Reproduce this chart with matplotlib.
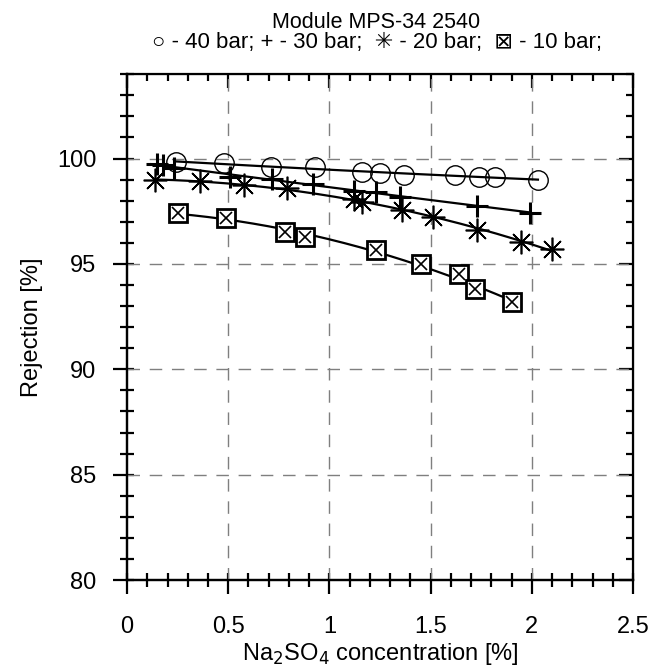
import numpy as np
import matplotlib
matplotlib.use("Agg")
import matplotlib.pyplot as plt

plt.rcParams['font.family'] = ['Liberation Sans', 'DejaVu Sans']

# 40 bar
x40 = [0.24, 0.48, 0.71, 0.93, 1.16, 1.25, 1.37, 1.62, 1.74, 1.82, 2.03]
y40 = [99.82, 99.78, 99.62, 99.59, 99.35, 99.31, 99.23, 99.23, 99.11, 99.11, 99.0]
# 30 bar
x30 = [0.15, 0.18, 0.23, 0.51, 0.715, 0.92, 1.12, 1.23, 1.35, 1.73, 1.99]
y30 = [99.75, 99.7, 99.55, 99.11, 99.03, 98.8, 98.48, 98.4, 98.17, 97.77, 97.43]
# 20 bar
x20 = [0.14, 0.36, 0.58, 0.79, 1.12, 1.16, 1.36, 1.51, 1.73, 1.945, 2.1]
y20 = [98.96, 98.92, 98.76, 98.6, 98.09, 97.93, 97.54, 97.22, 96.62, 96.03, 95.72]
# 10 bar
x10 = [0.25, 0.49, 0.78, 0.88, 1.23, 1.45, 1.64, 1.72, 1.90]
y10 = [97.41, 97.19, 96.51, 96.30, 95.64, 95.01, 94.50, 93.79, 93.19]

title1 = "Module MPS-34 2540"
title2 = "\u25cb - 40 bar; + - 30 bar;  \u2733 - 20 bar;  \u22a0 - 10 bar;"
xlabel = "Na$_2$SO$_4$ concentration [%]"
ylabel = "Rejection [%]"

fig = plt.figure(figsize=(6.65, 6.69), dpi=100)
ax = fig.add_axes([0.191, 0.133, 0.761, 0.756])

def trend(x, y, deg=2, x0=None):
    c = np.polyfit(x, y, deg)
    lo = min(x) if x0 is None else x0
    xs = np.linspace(lo, max(x), 200)
    return xs, np.polyval(c, xs)

lw = 1.6
for xs, ys in [trend(x40, y40), trend(x30, y30, x0=0.12), trend(x20, y20), trend(x10, y10)]:
    ax.plot(xs, ys, color='black', lw=lw, zorder=3)

ax.plot(x40, y40, ls='none', marker='o', ms=14, mfc='none', mec='black', mew=1.0, zorder=4)
ax.plot(x30, y30, ls='none', marker='+', ms=16, mec='black', mew=2.2, zorder=4)
ax.plot(x20, y20, ls='none', marker=(8, 2, 0), ms=17, mec='black', mew=1.2, zorder=4)
ax.plot(x10, y10, ls='none', marker='s', ms=13, mfc='white', mec='black', mew=2.0, zorder=4)
ax.plot(x10, y10, ls='none', marker='x', ms=9, mec='black', mew=1.2, zorder=5)

ax.set_xlim(0, 2.5)
ax.set_ylim(80, 104)
ax.set_xticks([0, 0.5, 1, 1.5, 2, 2.5])
ax.set_xticklabels(['0', '0.5', '1', '1.5', '2', '2.5'])
ax.set_yticks([80, 85, 90, 95, 100])
ax.set_xticks(np.arange(0, 2.51, 0.1), minor=True)
ax.set_yticks(np.arange(80, 104.1, 1), minor=True)

for v in [0.5, 1, 1.5, 2]:
    ax.axvline(v, color='#7f7f7f', lw=1.0, ls=(0, (9, 7)), zorder=1)
for v in [85, 90, 95, 100]:
    ax.axhline(v, color='#7f7f7f', lw=1.0, ls=(0, (9, 7)), zorder=1)

for s in ax.spines.values():
    s.set_linewidth(1.6)

ax.tick_params(which='major', direction='out', length=10, width=1.6, labelsize=17)
ax.tick_params(which='minor', direction='out', length=5, width=1.6)
ax.tick_params(axis='y', which='major', pad=12)
ax.tick_params(axis='x', which='major', pad=16)

# inner parts of left / bottom ticks
for loc, fn in [('left', ax.secondary_yaxis), ('bottom', ax.secondary_xaxis)]:
    sec = fn(loc)
    if loc == 'left':
        sec.set_yticks([80, 85, 90, 95, 100])
        sec.set_yticks(np.arange(80, 104.1, 1), minor=True)
    else:
        sec.set_xticks([0, 0.5, 1, 1.5, 2, 2.5])
        sec.set_xticks(np.arange(0, 2.51, 0.1), minor=True)
    sec.tick_params(which='both', direction='in', length=5, width=1.6, labelleft=False, labelbottom=False)
    sec.spines[loc].set_linewidth(1.6)

# top / right inward ticks
top = ax.secondary_xaxis('top')
top.set_xticks([0, 0.5, 1, 1.5, 2, 2.5])
top.set_xticks(np.arange(0, 2.51, 0.1), minor=True)
top.tick_params(which='major', direction='in', length=10, width=1.6, labeltop=False)
top.tick_params(which='minor', direction='in', length=5, width=1.6)
right = ax.secondary_yaxis('right')
right.set_yticks([80, 85, 90, 95, 100])
right.set_yticks(np.arange(80, 104.1, 1), minor=True)
right.tick_params(which='major', direction='in', length=10, width=1.6, labelright=False)
right.tick_params(which='minor', direction='in', length=5, width=1.6)

ax.set_xlabel(xlabel, fontsize=17, labelpad=2)
ax.set_ylabel(ylabel, fontsize=17, labelpad=10)

fig.text(0.565, 0.967, title1, ha='center', va='center', fontsize=15.5)
fig.text(0.567, 0.937, title2, ha='center', va='center', fontsize=16)

fig.savefig("out.png", dpi=100)
